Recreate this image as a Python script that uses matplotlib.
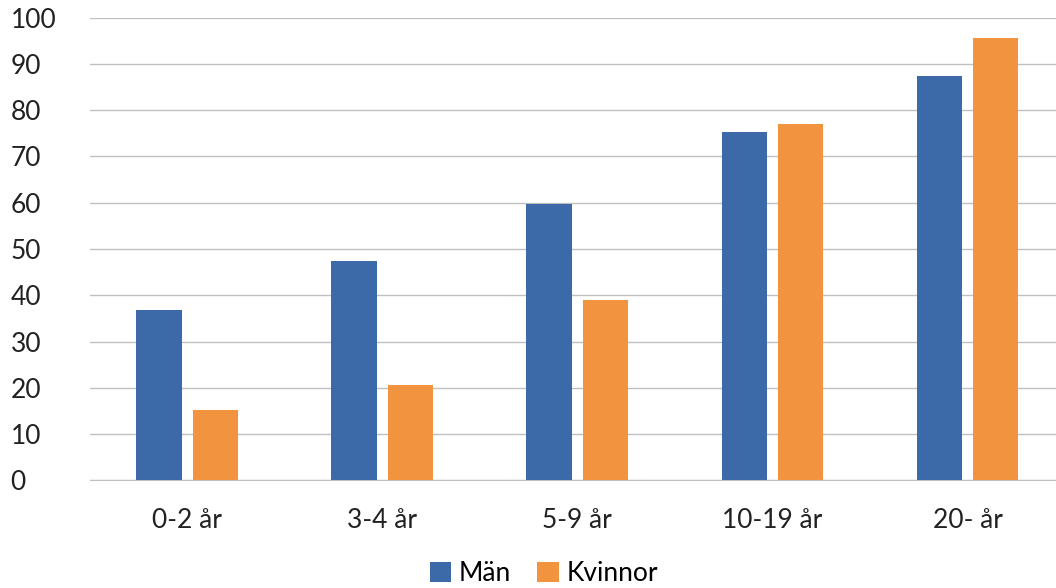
import numpy as np
import matplotlib.pyplot as plt

plt.rcParams['font.family'] = ['Lato', 'DejaVu Sans']

categories = ['0-2 år', '3-4 år', '5-9 år', '10-19 år', '20- år']
man = [36.9, 47.5, 59.8, 75.2, 87.3]
kvinnor = [15.3, 20.7, 38.9, 77.1, 95.5]

fig = plt.figure(figsize=(10.56, 5.88), dpi=100)
ax = fig.add_axes([0.085, 0.183, 0.915, 0.787])

x = np.arange(len(categories))
w = 0.232
ax.bar(x - 0.145, man, w, color='#3c6aa8', label='Män', zorder=3)
ax.bar(x + 0.145, kvinnor, w, color='#f29340', label='Kvinnor', zorder=3)

ax.set_xlim(-0.5, 4.454)
ax.set_ylim(0, 100)
ax.set_yticks(range(0, 101, 10))
ax.set_xticks(x)
ax.set_xticklabels(categories)
ax.grid(axis='y', color='#c0c0c0', lw=1, zorder=0)
for s in ['top', 'right', 'left']:
    ax.spines[s].set_visible(False)
ax.spines['bottom'].set_color('#c0c0c0')
ax.tick_params(length=0, labelsize=19, colors='#222222')
ax.tick_params(axis='x', pad=20)
ax.tick_params(axis='y', pad=57)
for lab in ax.get_yticklabels():
    lab.set_horizontalalignment('left')

ax.legend(loc='upper center', bbox_to_anchor=(0.47, -0.135), ncol=2, frameon=False,
          fontsize=19, handlelength=0.8, handleheight=0.8, columnspacing=1.0,
          handletextpad=0.3, borderpad=0.2)

fig.savefig('out.png')
